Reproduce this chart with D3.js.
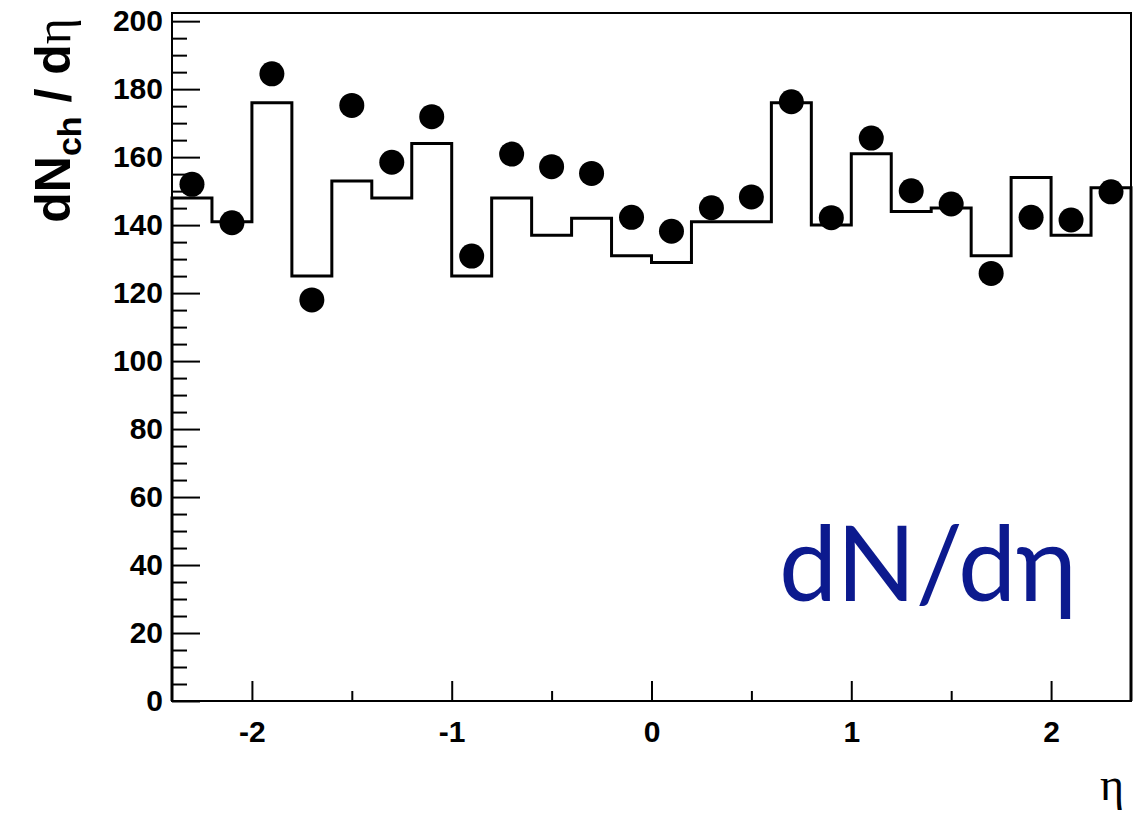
<!DOCTYPE html>
<html>
<head>
<meta charset="utf-8">
<script src="https://d3js.org/d3.v7.min.js"></script>
<style>
  body { margin: 0; background: #fff; }
  svg { display: block; }
</style>
</head>
<body>
<div id="chart"></div>
<script>
// bin centers in eta, bin width 0.2
const etaCenters = [-2.3, -2.1, -1.9, -1.7, -1.5, -1.3, -1.1, -0.9, -0.7, -0.5, -0.3, -0.1,
                     0.1,  0.3,  0.5,  0.7,  0.9,  1.1,  1.3,  1.5,  1.7,  1.9,  2.1,  2.3];
const binWidth = 0.2;
// histogram (line)
const histValues = [148, 141, 176, 125, 153, 148, 164, 125, 148, 137, 142, 131,
                    129, 141, 141, 176, 140, 161, 144, 145, 131, 154, 137, 151];
// data points (markers)
const pointValues = [152, 140.7, 184.5, 118, 175.2, 158.5, 171.9, 130.9, 160.9, 157.2, 155.2, 142.3,
                     138.2, 145.1, 148.3, 176.3, 142.2, 165.6, 150.1, 146.2, 125.8, 142.3, 141.5, 149.8];
const xMajorTicks = [-2, -1, 0, 1, 2];
const xMinorTicks = [-1.5, -0.5, 0.5, 1.5];
const yMajorTicks = [0, 20, 40, 60, 80, 100, 120, 140, 160, 180, 200];

const W = 1148, H = 815;
const margin = { top: 13, right: 17, bottom: 114, left: 172 };
const width = W - margin.left - margin.right;
const height = H - margin.top - margin.bottom;

const svg = d3.select("#chart")
    .append("svg")
    .attr("width", W)
    .attr("height", H);

const g = svg.append("g")
    .attr("transform", `translate(${margin.left}, ${margin.top})`);

const x = d3.scaleLinear().domain([-2.4, 2.4]).range([0, width]);
const y = d3.scaleLinear().domain([0, 202.4]).range([height, 0]);

const font = "'Liberation Sans', Arial, Helvetica, sans-serif";

// y axis minor ticks
const yMinor = d3.range(0, 201, 5).filter(v => v % 20 !== 0);
g.append("g")
    .call(d3.axisLeft(y).tickValues(yMinor).tickSize(-15).tickFormat(""))
    .call(a => a.select(".domain").remove())
    .selectAll("line").attr("stroke", "#000").attr("stroke-width", 2);

// y axis major ticks
g.append("g")
    .attr("class", "y-axis")
    .call(d3.axisLeft(y).tickValues(yMajorTicks).tickSize(-28).tickPadding(9))
    .call(a => a.select(".domain").remove())
    .call(a => a.selectAll("line").attr("stroke", "#000").attr("stroke-width", 2))
    .selectAll("text")
    .style("font-family", font)
    .style("font-weight", "bold")
    .style("font-size", "30px")
    .attr("fill", "#000");

// x axis minor ticks
g.append("g")
    .attr("transform", `translate(0, ${height})`)
    .call(d3.axisBottom(x).tickValues(xMinorTicks).tickSize(-10).tickFormat(""))
    .call(a => a.select(".domain").remove())
    .selectAll("line").attr("stroke", "#000").attr("stroke-width", 2);

// x axis major ticks
g.append("g")
    .attr("class", "x-axis")
    .attr("transform", `translate(0, ${height})`)
    .call(d3.axisBottom(x).tickValues(xMajorTicks).tickSize(-20).tickPadding(20).tickFormat(d => String(d)))
    .call(a => a.select(".domain").remove())
    .call(a => a.selectAll("line").attr("stroke", "#000").attr("stroke-width", 2))
    .selectAll("text")
    .style("font-family", font)
    .style("font-weight", "bold")
    .style("font-size", "30px")
    .attr("fill", "#000");

// histogram as a step line
const histPts = [[x(etaCenters[0] - binWidth / 2), y(0)]];
etaCenters.forEach((c, i) => {
    histPts.push([x(c - binWidth / 2), y(histValues[i])]);
    histPts.push([x(c + binWidth / 2), y(histValues[i])]);
});
histPts.push([x(etaCenters[etaCenters.length - 1] + binWidth / 2), y(0)]);

g.append("path")
    .attr("d", d3.line()(histPts))
    .attr("fill", "none")
    .attr("stroke", "#000")
    .attr("stroke-width", 3)
    .attr("stroke-linejoin", "miter");

// markers
g.selectAll(".pt")
    .data(etaCenters.map((c, i) => ({ eta: c, v: pointValues[i] })))
    .enter()
    .append("circle")
    .attr("class", "pt")
    .attr("cx", d => x(d.eta))
    .attr("cy", d => y(d.v))
    .attr("r", 12.5)
    .attr("fill", "#000");

// frame
g.append("rect")
    .attr("x", 0)
    .attr("y", 0)
    .attr("width", width)
    .attr("height", height)
    .attr("fill", "none")
    .attr("stroke", "#000")
    .attr("stroke-width", 2);

// y title
const yTitle = svg.append("text")
    .attr("transform", "translate(70, 18) rotate(-90)")
    .attr("text-anchor", "end")
    .style("font-family", font)
    .style("font-weight", "bold")
    .style("font-size", "50px");
yTitle.append("tspan").text("dN");
yTitle.append("tspan").attr("dy", 11).style("font-size", "34px").text("ch");
yTitle.append("tspan").attr("dy", -11).text(" / d");
yTitle.append("tspan")
    .style("font-family", "'Liberation Serif', 'Times New Roman', serif")
    .style("font-weight", "normal")
    .text("η");

// x title
svg.append("text")
    .attr("x", 1124)
    .attr("y", 800)
    .attr("text-anchor", "end")
    .style("font-family", "'Liberation Serif', 'Times New Roman', serif")
    .style("font-size", "46px")
    .text("η");

// label in the plot
svg.append("text")
    .attr("x", 779)
    .attr("y", 601)
    .style("font-family", "Lato, 'Open Sans', sans-serif")
    .style("font-size", "104px")
    .attr("fill", "#0c1a8e")
    .text("dN/dη");
</script>
</body>
</html>
